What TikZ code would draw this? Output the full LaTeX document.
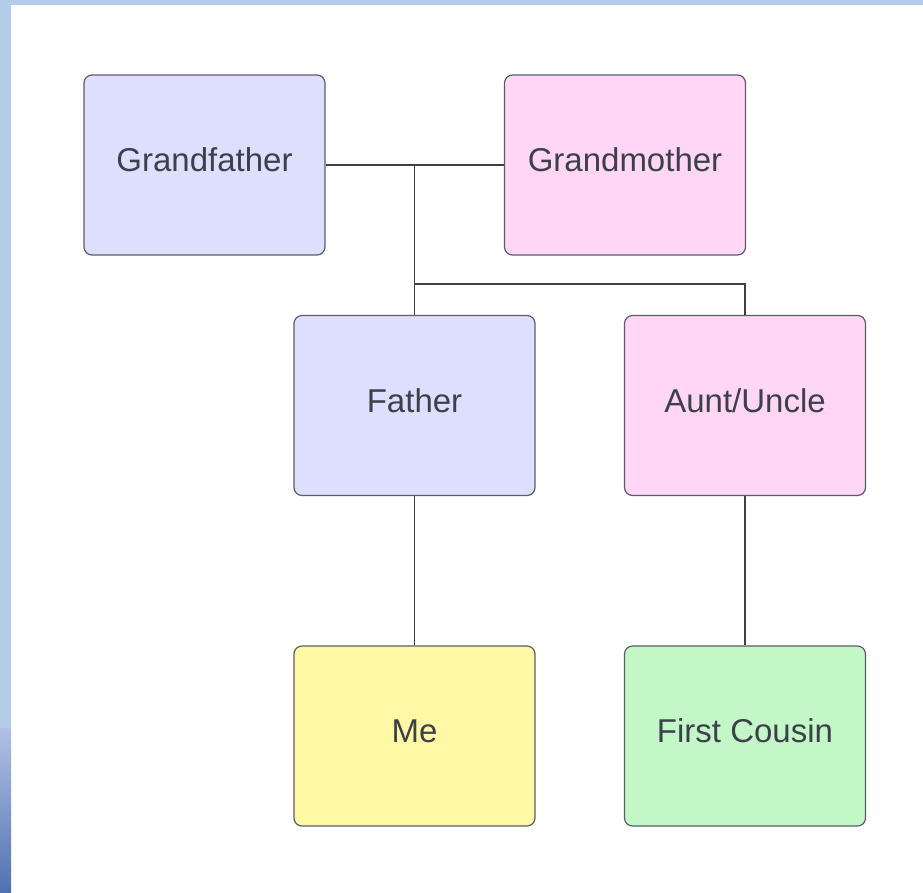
\documentclass[tikz,border=0pt]{standalone}
\usepackage{fontspec}
\setmainfont{Liberation Sans}
\usetikzlibrary{positioning}
\definecolor{boxline}{HTML}{5A5E66}
\definecolor{txt}{HTML}{3C4149}
\definecolor{male}{HTML}{DEDFFF}
\definecolor{female}{HTML}{FFD6F6}
\definecolor{self}{HTML}{FFF9A6}
\definecolor{cousin}{HTML}{C3F7C8}
\definecolor{frame}{HTML}{B4CBEA}
\definecolor{framedark}{HTML}{5071B1}
\tikzset{
person/.style={draw=boxline, line width=1.2pt, rounded corners=8pt,
  minimum width=241pt, minimum height=180pt, text=txt, text depth=10pt,
  font=\fontsize{33}{39}\selectfont},
link/.style={draw=txt, line width=1.4pt},
}

\begin{document}
\begin{tikzpicture}[x=1pt, y=-1pt]
    \useasboundingbox (0,0) rectangle (923,892);
    \fill[white] (0,0) rectangle (923,892);
    \fill[frame] (0,0) rectangle (923,5);
    \fill[frame] (0,0) rectangle (11,728);
    \shade[top color=frame!95!violet, bottom color=framedark] (0,728) rectangle (11,892);
    \node[person, fill=male] (gf) at (204.5,165) {Grandfather};
    \node[person, fill=female] (gm) at (625,165) {Grandmother};
    \node[person, fill=male] (f) at (414.5,405.5) {Father};
    \node[person, fill=female] (au) at (745,405.5) {Aunt/Uncle};
    \node[person, fill=self] (me) at (414.5,736) {Me};
    \node[person, fill=cousin] (fc) at (745,736) {First Cousin};
    \coordinate (fork) at ([yshift=31pt]f.north);
    \draw[link]
        (gf) -- (gm)
        (gf.east -| f.north) -- (f.north)
        (fork) -| (au.north)
        (f) -- (me)
        (au) -- (fc)
        ;
\end{tikzpicture}
\end{document}
